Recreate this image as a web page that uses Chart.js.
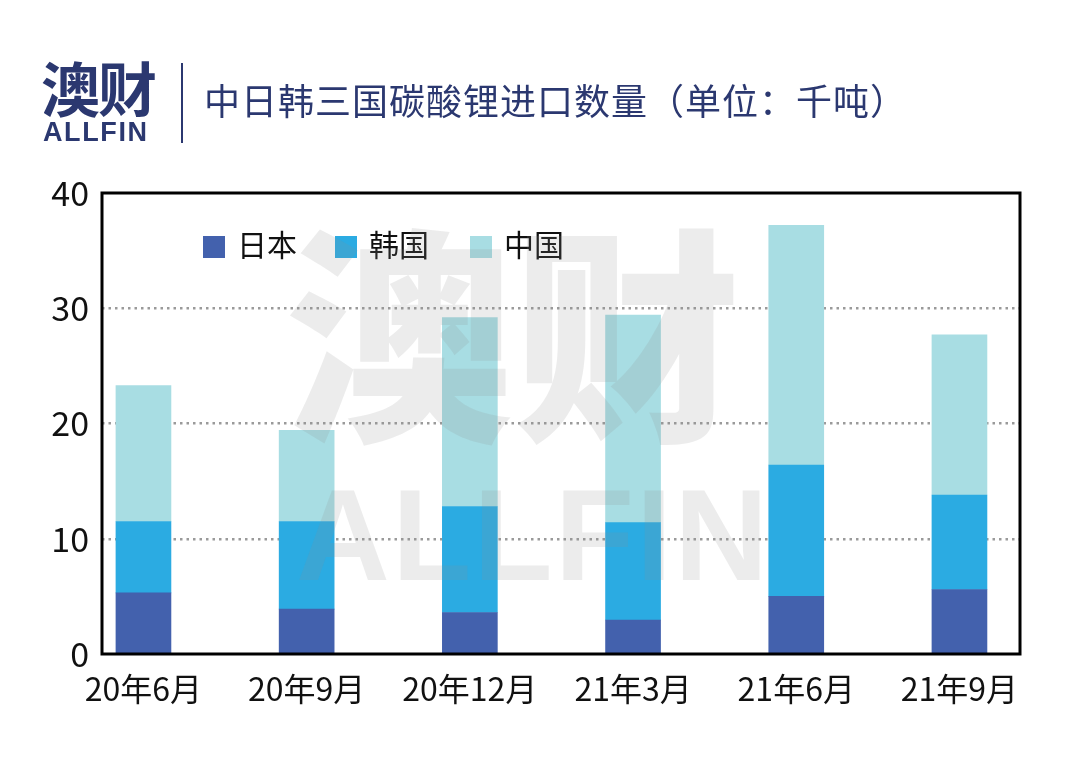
<!DOCTYPE html>
<html>
<head>
<meta charset="utf-8">
<script src="https://cdn.jsdelivr.net/npm/chart.js@4.4.1/dist/chart.umd.min.js"></script>
<style>
  html, body { margin: 0; padding: 0; background: #fff; }
  #wrap { position: relative; width: 1080px; height: 767px; overflow: hidden; font-family: "Noto Sans CJK SC", "Noto Sans", sans-serif; }
  #chart { position: absolute; left: 0; top: 0; }
  .logo { position: absolute; left: 41px; top: 51px; color: #2b3870; font-weight: 700; font-size: 59px; line-height: 72px; letter-spacing: -2px; }
  .logo2 { position: absolute; left: 43px; top: 117px; color: #2b3870; font-family: "Liberation Sans", sans-serif; font-weight: 700; font-size: 27px; letter-spacing: 1.6px; line-height: 30px; }
  .vline { position: absolute; left: 181px; top: 63px; width: 2px; height: 80px; background: #2b3870; }
  .title { position: absolute; left: 204px; top: 76px; color: #2b3870; font-size: 36px; line-height: 46px; letter-spacing: 1px; white-space: nowrap; }
  .legend { position: absolute; top: 225px; left: 203px; font-size: 30px; color: #111; }
  .legend span.item { position: absolute; white-space: nowrap; line-height: 36px; }
  .legend i { display: inline-block; width: 22px; height: 22px; margin-right: 12px; vertical-align: -2px; }
  .wm { position: absolute; color: rgba(140,140,140,0.17); pointer-events: none; white-space: nowrap; }
  .wm1 { left: 285px; top: 195px; font-size: 228px; line-height: 260px; font-weight: 900; }
  .wm2 { left: 296px; top: 465px; font-size: 130px; line-height: 140px; font-weight: 700; font-family: "Liberation Sans", sans-serif; letter-spacing: 2px; }
</style>
</head>
<body>
<div id="wrap">
  <canvas id="chart" width="1080" height="767"></canvas>
  <div class="logo">澳财</div>
  <div class="logo2">ALLFIN</div>
  <div class="vline"></div>
  <div class="title">中日韩三国碳酸锂进口数量（单位：千吨）</div>
  <div class="legend" id="legend"></div>
  <div class="wm wm1">澳财</div>
  <div class="wm wm2">ALLFIN</div>
</div>
<script>
'use strict';

// data (thousand tonnes)
var categories = ['20年6月', '20年9月', '20年12月', '21年3月', '21年6月', '21年9月'];
var japan = [5.3, 3.9, 3.6, 2.95, 5.0, 5.6];
var korea = [6.2, 7.6, 9.2, 8.45, 11.4, 8.2];
var china = [11.8, 7.9, 16.4, 18.0, 20.8, 13.9];
var yTicks = [0, 10, 20, 30, 40];

var seriesNames = ['日本', '韩国', '中国'];
var seriesColors = ['#4361ad', '#2babe2', '#a8dde3'];

function toPoints(arr) {
  return arr.map(function (v, i) { return { x: i, y: v }; });
}

// legend placed inside the plot like the original
var legendEl = document.getElementById('legend');
var legendLeft = [0, 132, 267];
for (var k = 0; k < seriesNames.length; k++) {
  var item = document.createElement('span');
  item.className = 'item';
  item.style.left = legendLeft[k] + 'px';
  item.innerHTML = '<i style="background:' + seriesColors[k] + '"></i>' + seriesNames[k];
  legendEl.appendChild(item);
}

var framePlugin = {
  id: 'frame',
  afterDatasetsDraw: function (chart) {
    var a = chart.chartArea;
    var c = chart.ctx;
    c.save();
    c.strokeStyle = '#000';
    c.lineWidth = 3;
    c.strokeRect(a.left, a.top, a.right - a.left, a.bottom - a.top);
    c.restore();
  }
};

var ctx = document.getElementById('chart').getContext('2d');
var chart = new Chart(ctx, {
  type: 'bar',
  data: {
    datasets: [
      { label: seriesNames[0], data: toPoints(japan), backgroundColor: seriesColors[0] },
      { label: seriesNames[1], data: toPoints(korea), backgroundColor: seriesColors[1] },
      { label: seriesNames[2], data: toPoints(china), backgroundColor: seriesColors[2] }
    ]
  },
  plugins: [framePlugin],
  options: {
    responsive: false,
    animation: false,
    layout: { padding: { top: 193, right: 60, left: 0, bottom: 0 } },
    datasets: { bar: { barThickness: 55, borderWidth: 0 } },
    plugins: { legend: { display: false }, tooltip: { enabled: false } },
    scales: {
      x: {
        type: 'linear',
        stacked: true,
        offset: false,
        min: -0.254,
        max: 5.371,
        afterBuildTicks: function (scale) {
          scale.ticks = categories.map(function (_, i) { return { value: i }; });
        },
        afterFit: function (scale) { scale.height = 113; },
        grid: { display: false, drawTicks: false },
        border: { display: false },
        ticks: {
          padding: 16,
          color: '#111',
          font: { family: '"Noto Sans CJK SC", sans-serif', size: 32 },
          callback: function (v) { return categories[v]; },
          maxRotation: 0,
          autoSkip: false
        }
      },
      y: {
        stacked: true,
        min: 0,
        max: 40,
        afterBuildTicks: function (scale) {
          scale.ticks = yTicks.map(function (v) { return { value: v }; });
        },
        afterFit: function (scale) { scale.width = 102; },
        border: { display: false, dash: [2.5, 4] },
        grid: {
          drawTicks: false,
          lineWidth: 2.5,
          color: function (c) {
            return (c.tick.value === 0 || c.tick.value === 40) ? 'rgba(0,0,0,0)' : '#9a9a9a';
          }
        },
        ticks: {
          padding: 13,
          color: '#111',
          font: { family: '"Noto Sans CJK SC", sans-serif', size: 34 }
        }
      }
    }
  }
});
</script>
</body>
</html>
